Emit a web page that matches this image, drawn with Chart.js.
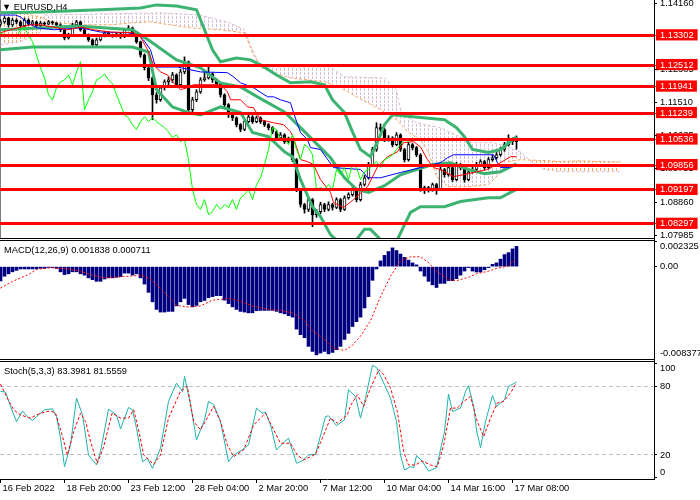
<!DOCTYPE html>
<html>
<head>
<meta charset="utf-8">
<title>EURUSD,H4</title>
<script src="https://cdn.jsdelivr.net/npm/chart.js@4.4.1/dist/chart.umd.min.js"></script>
<style>
  html, body { margin: 0; padding: 0; background: #fff; }
  #page { position: relative; width: 700px; height: 500px; overflow: hidden; }
  canvas { position: absolute; left: 0; }
  .rule { position: absolute; left: 0; width: 655px; height: 1px; background: #000; }
  .vrule { position: absolute; left: 654px; top: 0; width: 1px; height: 480px; background: #000; }
  .caption { position: absolute; left: 4px; font: 9.3px "Liberation Sans", Arial, sans-serif; line-height: 10px; color: #000; white-space: nowrap; }
</style>
</head>
<body>
<div id="page">
  <canvas id="main" width="700" height="241" style="top:0"></canvas>
  <canvas id="macd" width="700" height="118" style="top:241px"></canvas>
  <canvas id="stoch" width="700" height="138" style="top:362px"></canvas>
  <div class="rule" style="top:238px"></div>
  <div class="rule" style="top:240px"></div>
  <div class="rule" style="top:359px"></div>
  <div class="rule" style="top:361px"></div>
  <div class="vrule"></div>
  <div class="caption" style="top:2px;left:2px">&#9660; EURUSD,H4</div>
  <div class="caption" style="top:245px">MACD(12,26,9) 0.001838 0.000711</div>
  <div class="caption" style="top:366px">Stoch(5,3,3) 83.3981 81.5559</div>
</div>
<script>
// H4 candles, bar 0 = 16 Feb 2022
const opens = [
  1.1360,1.1366,1.1376,1.1358,1.1371,1.1366,1.1355,1.1371,1.1360,1.1366,
  1.1355,1.1363,1.1360,1.1366,1.1363,1.1358,1.1345,1.1323,1.1331,1.1358,
  1.1366,1.1345,1.1331,1.1318,1.1305,1.1318,1.1329,1.1337,1.1331,1.1329,
  1.1334,1.1326,1.1345,1.1350,1.1331,1.1313,1.1278,1.1244,1.1217,1.1172,
  1.1159,1.1191,1.1207,1.1212,1.1225,1.1199,1.1233,1.1260,1.1133,1.1159,
  1.1180,1.1212,1.1217,1.1228,1.1212,1.1201,1.1172,1.1146,1.1119,1.1111,
  1.1093,1.1080,1.1101,1.1114,1.1101,1.1111,1.1101,1.1093,1.1085,1.1074,
  1.1058,1.1066,1.1048,1.1053,1.1000,1.0921,1.0881,1.0868,1.0894,1.0854,
  1.0862,1.0881,1.0868,1.0881,1.0873,1.0894,1.0868,1.0899,1.0907,1.0921,
  1.0894,1.0934,1.0952,1.0987,1.1027,1.1085,1.1080,1.1053,1.1058,1.1040,
  1.1066,1.1027,1.1000,1.1040,1.1032,1.1013,1.0921,1.0926,1.0921,1.0934,
  1.0921,1.0974,1.0960,1.0979,1.0947,1.0987,1.0979,1.0947,1.0968,1.0974,
  1.0987,1.0995,1.0979,1.1000,1.1005,1.1013,1.1027,1.1040,1.1053,1.1048
];
const highs = [
  1.1372,1.1380,1.1378,1.1375,1.1374,1.1369,1.1376,1.1374,1.1370,1.1368,
  1.1367,1.1366,1.1370,1.1368,1.1365,1.1361,1.1348,1.1336,1.1362,1.1370,
  1.1368,1.1349,1.1334,1.1321,1.1323,1.1333,1.1341,1.1340,1.1334,1.1338,
  1.1336,1.1349,1.1356,1.1352,1.1334,1.1315,1.1281,1.1247,1.1220,1.1178,
  1.1196,1.1212,1.1220,1.1232,1.1228,1.1240,1.1273,1.1262,1.1166,1.1186,
  1.1218,1.1236,1.1246,1.1231,1.1215,1.1204,1.1175,1.1149,1.1125,1.1114,
  1.1096,1.1106,1.1120,1.1117,1.1116,1.1114,1.1104,1.1096,1.1088,1.1077,
  1.1072,1.1069,1.1060,1.1056,1.1003,1.0924,1.0884,1.0900,1.0897,1.0868,
  1.0887,1.0884,1.0888,1.0884,1.0899,1.0897,1.0904,1.0912,1.0926,1.0924,
  1.0940,1.0958,1.0993,1.1033,1.1098,1.1095,1.1084,1.1064,1.1061,1.1072,
  1.1069,1.1030,1.1046,1.1043,1.1035,1.1016,1.0930,1.0929,1.0938,1.0937,
  1.0980,1.0977,1.0985,1.0982,1.0993,1.0990,1.0982,1.0973,1.0980,1.0993,
  1.1000,1.0998,1.1006,1.1012,1.1019,1.1033,1.1046,1.1066,1.1058,1.1063
];
const lows = [
  1.1355,1.1362,1.1352,1.1354,1.1361,1.1350,1.1352,1.1356,1.1357,1.1351,
  1.1352,1.1356,1.1358,1.1359,1.1354,1.1340,1.1318,1.1320,1.1329,1.1355,
  1.1341,1.1327,1.1314,1.1298,1.1302,1.1315,1.1326,1.1327,1.1325,1.1326,
  1.1322,1.1324,1.1342,1.1327,1.1309,1.1272,1.1238,1.1210,1.1106,1.1150,
  1.1155,1.1185,1.1198,1.1205,1.1192,1.1196,1.1228,1.1128,1.1125,1.1154,
  1.1176,1.1208,1.1214,1.1205,1.1195,1.1166,1.1140,1.1112,1.1104,1.1087,
  1.1074,1.1077,1.1098,1.1096,1.1098,1.1096,1.1088,1.1079,1.1069,1.1052,
  1.1055,1.1043,1.1045,1.0995,1.0915,1.0874,1.0858,1.0862,1.0822,1.0847,
  1.0856,1.0862,1.0864,1.0866,1.0870,1.0862,1.0865,1.0895,1.0903,1.0888,
  1.0890,1.0930,1.0948,1.0983,1.1022,1.1074,1.1048,1.1049,1.1034,1.1037,
  1.1022,1.0994,1.0996,1.1026,1.1008,1.0916,1.0910,1.0914,1.0916,1.0908,
  1.0918,1.0954,1.0956,1.0942,1.0944,1.0973,1.0940,1.0944,1.0964,1.0970,
  1.0982,1.0974,1.0975,1.0996,1.1001,1.1009,1.1022,1.1036,1.1040,1.1028
];
const closes = [
  1.1366,1.1376,1.1358,1.1371,1.1366,1.1355,1.1371,1.1360,1.1366,1.1355,
  1.1363,1.1360,1.1366,1.1363,1.1358,1.1345,1.1323,1.1331,1.1358,1.1366,
  1.1345,1.1331,1.1318,1.1305,1.1318,1.1329,1.1337,1.1331,1.1329,1.1334,
  1.1326,1.1345,1.1350,1.1331,1.1313,1.1278,1.1244,1.1217,1.1172,1.1159,
  1.1191,1.1207,1.1212,1.1225,1.1199,1.1233,1.1260,1.1133,1.1159,1.1180,
  1.1212,1.1217,1.1228,1.1212,1.1201,1.1172,1.1146,1.1119,1.1111,1.1093,
  1.1080,1.1101,1.1114,1.1101,1.1111,1.1101,1.1093,1.1085,1.1074,1.1058,
  1.1066,1.1048,1.1053,1.1000,1.0921,1.0881,1.0868,1.0894,1.0854,1.0862,
  1.0881,1.0868,1.0881,1.0873,1.0894,1.0868,1.0899,1.0907,1.0921,1.0894,
  1.0934,1.0952,1.0987,1.1027,1.1085,1.1080,1.1053,1.1058,1.1040,1.1066,
  1.1027,1.1000,1.1040,1.1032,1.1013,1.0921,1.0926,1.0921,1.0934,1.0921,
  1.0974,1.0960,1.0979,1.0947,1.0987,1.0979,1.0947,1.0968,1.0974,1.0987,
  1.0995,1.0979,1.1000,1.1005,1.1013,1.1027,1.1040,1.1053,1.1048,1.1058
];
const chikouShift = 26;

// indicator vertices: [bar, value]
const bbUpper = [[0,1.1390],[10,1.1392],[25,1.1398],[35,1.1403],[39,1.1411],[44,1.1408],[49,1.1398],[51,1.1345],[53,1.1292],[55,1.1260],[59,1.1270],[62.5,1.1265],[65.5,1.1249],[69,1.1225],[72.5,1.1204],[77.5,1.1207],[81,1.1199],[83,1.1159],[86,1.1125],[88,1.1074],[90,1.1027],[92.5,1.1008],[94.5,1.1053],[96,1.1093],[98,1.1119],[103,1.1114],[111,1.1106],[114,1.1085],[116,1.1061],[118,1.1027],[122,1.1019],[125,1.1027],[129,1.1061]];
const bbMiddle = [[0,1.1345],[11,1.1350],[19,1.1355],[33,1.1345],[37,1.1318],[44,1.1265],[50,1.1244],[55,1.1204],[60,1.1193],[65,1.1162],[71,1.1127],[75,1.1085],[80,1.1032],[82.5,1.1005],[86,1.0952],[89,1.0921],[92,1.0913],[96,1.0931],[100,1.0960],[104,1.0974],[108,1.0987],[112.5,1.0992],[117,1.0974],[121,1.0963],[125,1.0968],[129,1.0989]];
const bbLower = [[0,1.1292],[8,1.1299],[33,1.1299],[37,1.1286],[39,1.1186],[43,1.1140],[47,1.1125],[50,1.1119],[55,1.1140],[60,1.1125],[63,1.1072],[67,1.1061],[71,1.1021],[73,1.1008],[75,1.0947],[78,1.0875],[80,1.0849],[82.5,1.0801],[86,1.0767],[89,1.0788],[91,1.0815],[92.5,1.0815],[95,1.0788],[99,1.0783],[102.5,1.0860],[105,1.0875],[111,1.0875],[115,1.0889],[122,1.0899],[125,1.0899],[127.5,1.0913],[129,1.0921]];
const tenkan = [[0,1.1337],[2.5,1.1345],[5,1.1352],[7.5,1.1358],[10,1.1358],[13.25,1.1352],[16.75,1.1345],[20,1.1352],[23.25,1.1345],[27.5,1.1339],[33.25,1.1337],[35,1.1326],[36.75,1.1292],[38.25,1.1252],[40,1.1233],[41.75,1.1225],[43.25,1.1204],[45,1.1186],[46.75,1.1191],[48.25,1.1199],[55,1.1199],[56.75,1.1180],[57.5,1.1159],[60,1.1159],[61.75,1.1140],[63.25,1.1138],[65,1.1106],[68.25,1.1098],[70.75,1.1093],[72.5,1.1074],[73.25,1.1058],[75,1.1000],[76.75,1.0995],[78.25,1.0987],[80,1.0947],[82.5,1.0913],[83.25,1.0886],[85.75,1.0873],[88.25,1.0894],[91.75,1.0928],[94.25,1.0981],[96.75,1.1008],[99.25,1.1021],[100.75,1.1045],[103.25,1.1048],[105,1.1034],[106.75,1.1000],[108.25,1.0979],[110,1.0974],[113.25,1.0955],[115.75,1.0960],[118.25,1.0966],[121.75,1.0974],[125,1.0992],[127.5,1.1008],[129,1.1008]];
const kijun = [[0,1.1384],[3.75,1.1384],[5,1.1379],[6.75,1.1363],[9.25,1.1350],[13.25,1.1345],[20,1.1350],[25,1.1339],[31.75,1.1337],[34.5,1.1331],[35.75,1.1318],[37.5,1.1292],[38.75,1.1246],[44.25,1.1246],[50,1.1233],[56.75,1.1231],[58.25,1.1220],[60,1.1204],[63.25,1.1191],[66.75,1.1167],[68.25,1.1167],[70,1.1159],[72.5,1.1151],[73.25,1.1125],[75,1.1072],[76.75,1.1053],[77.5,1.1032],[80,1.1027],[83.25,1.0979],[90,1.0974],[90.75,1.0966],[91.75,1.0952],[95,1.0952],[100,1.0966],[105,1.0979],[110,1.0992],[111.75,1.1005],[113.25,1.1013],[123.25,1.1013],[124.25,1.0992],[125,1.0979],[126.75,1.0979],[129,1.0984]];
const senkouA = [[0,1.1392],[5,1.1390],[10,1.1379],[12.5,1.1366],[20,1.1358],[27.5,1.1358],[32.5,1.1363],[37.5,1.1366],[47.5,1.1350],[55,1.1345],[61,1.1337],[63,1.1284],[65,1.1246],[68,1.1231],[72.5,1.1217],[81,1.1207],[85,1.1191],[89,1.1167],[95,1.1133],[99,1.1106],[102,1.1072],[105,1.1053],[107,1.1019],[109,1.0955],[112,1.0928],[117,1.0928],[122,1.0934],[125,1.0966],[127,1.0995],[130,1.1000],[135,1.0998],[140,1.0995],[145,1.0997],[150,1.0995],[155,1.0994]];
const senkouB = [[0,1.1305],[5,1.1313],[10,1.1339],[11,1.1384],[40,1.1390],[50,1.1384],[57.5,1.1363],[61,1.1345],[63,1.1292],[65,1.1246],[82.5,1.1246],[86,1.1220],[96,1.1217],[99,1.1186],[100,1.1133],[101,1.1119],[104,1.1098],[110,1.1085],[118,1.1045],[123,1.1045],[127,1.1034],[130,1.1021],[133,1.0992],[136,1.0974],[140,1.0968],[155,1.0968]];

const priceTicks = [1.14160, 1.13285, 1.12385, 1.11510, 1.10635, 1.09755, 1.08860, 1.07985];
const levelPrices = [1.13302, 1.12512, 1.11941, 1.11239, 1.10536, 1.09856, 1.09197, 1.08297];

const macdHist = [
  -0.00130,-0.00087,-0.00065,-0.00047,-0.00034,-0.00021,-0.00021,-0.00021,-0.00021,-0.00021,
  -0.00016,-0.00016,-0.00009,-0.00009,-0.00016,-0.00047,-0.00072,-0.00065,-0.00047,-0.00047,
  -0.00065,-0.00077,-0.00102,-0.00118,-0.00133,-0.00133,-0.00112,-0.00102,-0.00102,-0.00096,
  -0.00090,-0.00059,-0.00059,-0.00077,-0.00065,-0.00102,-0.00158,-0.00233,-0.00319,-0.00388,
  -0.00412,-0.00412,-0.00406,-0.00406,-0.00356,-0.00319,-0.00288,-0.00344,-0.00365,-0.00351,
  -0.00319,-0.00307,-0.00282,-0.00272,-0.00263,-0.00263,-0.00304,-0.00335,-0.00365,-0.00388,
  -0.00406,-0.00412,-0.00419,-0.00419,-0.00400,-0.00397,-0.00397,-0.00397,-0.00397,-0.00406,
  -0.00419,-0.00428,-0.00444,-0.00458,-0.00567,-0.00617,-0.00644,-0.00723,-0.00769,-0.00800,
  -0.00784,-0.00769,-0.00791,-0.00778,-0.00753,-0.00723,-0.00660,-0.00605,-0.00543,-0.00499,
  -0.00458,-0.00375,-0.00272,-0.00124,-0.00021,0.00052,0.00102,0.00137,0.00170,0.00146,
  0.00114,0.00084,0.00059,0.00034,0.00016,-0.00040,-0.00086,-0.00133,-0.00165,-0.00189,
  -0.00152,-0.00152,-0.00127,-0.00127,-0.00109,-0.00077,-0.00040,-0.00009,-0.00040,-0.00049,
  -0.00049,-0.00028,-0.00009,0.00021,0.00034,0.00068,0.00109,0.00127,0.00161,0.001838
];
const macdSignal = [[0,-0.00195],[3,-0.00134],[7,-0.00072],[9,-0.00025],[12.5,-0.00009],[17,-0.00022],[20,-0.00041],[23,-0.00078],[26,-0.00102],[30,-0.00093],[35,-0.00078],[37,-0.00102],[39,-0.00165],[42,-0.00273],[44,-0.00351],[47,-0.00366],[50,-0.00357],[53,-0.00304],[57,-0.00288],[60,-0.00313],[63,-0.00357],[67,-0.00388],[70,-0.00397],[73,-0.00419],[76,-0.00490],[78,-0.00583],[81,-0.00660],[83,-0.00738],[86,-0.00760],[88,-0.00713],[90,-0.00630],[92.5,-0.00490],[95,-0.00273],[97.5,-0.00087],[100,0.00052],[102.5,0.00089],[105,0.00089],[107,0.00037],[109,-0.00041],[112,-0.00118],[114,-0.00127],[117,-0.00097],[119,-0.00065],[122,-0.00041],[124,-0.00016],[127,0.00006],[129,0.000711]];
const macdTicks = [0.002325, 0, -0.008377];

const stochMain = [[0,75.3],[1.25,74.8],[2.5,62.2],[4,49.1],[5.5,58.4],[6.7,53.4],[8,50],[9,53.4],[11,59.3],[13,60.2],[14,53.4],[15,34.6],[16,9.8],[17.5,28.7],[19,69.5],[20.5,54.9],[22,20],[24,11.3],[25,22.9],[27,59.9],[29,54.9],[30,42.7],[32,61.3],[33,59.3],[34,43.3],[35.5,14.1],[36.7,17.1],[38,8.4],[40,25.9],[42,66.6],[44,82.6],[45.5,75.3],[46,88.4],[47.5,63.7],[49,33.1],[51,50.6],[52,66.6],[53.3,63.7],[55,49.1],[57,14.1],[58.3,20],[60.4,24.4],[62,28.7],[64,60.8],[65.4,56.4],[66.25,57.3],[67.5,46.2],[69,24.4],[71,31.6],[72,34.6],[74,12.8],[75.4,14.8],[77,20],[78.75,20.6],[81.25,53.4],[82,54.1],[84,45.6],[86,50.6],[87,76.8],[88.75,70.9],[90,52.1],[91.25,69.5],[92.5,89.9],[93,98],[94,96.2],[96,81.1],[97.5,69.5],[99,49.1],[100,20],[101,6.9],[102.5,9.8],[103.3,8.9],[104,19.4],[105.4,14.8],[107,6],[109,8.9],[111,40.3],[112,73],[113,57.8],[115,60.8],[116.25,75.3],[117,80.3],[118.3,62.2],[119,41.8],[120,26.4],[121.25,49.1],[123,71.8],[124,62.2],[126,68],[127,79.7],[129,83.4]];
const stochSignal = [[0,81.7],[1.7,69.5],[3.3,59.3],[5,54.9],[7.5,52.1],[10,56.4],[12.5,58.4],[13.75,56.4],[15.4,37.5],[16.7,20],[18.3,40.3],[20,56.4],[21.25,49.1],[22.5,31.6],[24.2,12.8],[25.8,27.2],[27.9,56.4],[30,52.1],[32,52.1],[33.3,59.3],[34.6,40.3],[35.8,20],[38.3,11.9],[40,20],[42,52.1],[45,75.3],[46.7,79.7],[48.3,49.1],[50,41.8],[53.3,62.2],[55,49.1],[56.7,28.7],[58.3,18.5],[60.8,24.4],[63.3,46.2],[66.25,56.4],[68.3,41.8],[70,30.2],[72.5,30.2],[74.2,20],[75.8,15.6],[78.75,20.6],[80.8,37.5],[82.5,52.1],[84.2,47.7],[86.7,54.9],[87.5,63],[89.2,72.4],[90.8,62.2],[92.5,78.3],[94.6,94.2],[95.8,89.9],[97.5,78.3],[99.2,57.8],[100.8,22.9],[102,11.3],[103.75,11.3],[105.4,14.8],[107.5,11.3],[109.2,9.8],[110.8,28.7],[112.5,60.8],[114.2,60.8],[115.8,66.6],[117.5,70.9],[119.2,49.1],[120.8,36],[122.5,52.1],[124.2,65.2],[125.8,66.6],[127.5,73.9],[128.75,81.6]];
const stochTicks = [100, 80, 20, 0];
const stochLevels = [20, 80];

const timeTickBars = [0, 16, 32, 48, 64, 80, 96, 112, 128];
const timeTickLabels = ["16 Feb 2022", "18 Feb 20:00", "23 Feb 12:00", "28 Feb 04:00", "2 Mar 20:00", "7 Mar 12:00", "10 Mar 04:00", "14 Mar 16:00", "17 Mar 08:00"];

// 4 px per bar over a 654 px plot, bar centres on half pixels
const X_MIN = -0.125, X_MAX = 163.375;
const FONT = { family: "Liberation Sans", size: 9.3, lineHeight: 1.1 };

Chart.defaults.font.family = "Liberation Sans";

function pts(list) {
  return list.map(([x, y]) => ({ x, y }));
}

function hatch(color) {
  const tile = document.createElement("canvas");
  tile.width = 4;
  tile.height = 4;
  const g = tile.getContext("2d");
  g.fillStyle = color;
  g.fillRect(0, 0, 1, 3);
  return g.createPattern(tile, "repeat");
}

function rightAxisFit(s) {
  s.width = 46;
  s.paddingTop = 0;
  s.paddingBottom = 0;
}

function line(data, color, extra) {
  return Object.assign({
    type: "line", data: pts(data), borderColor: color, borderWidth: 1,
    pointRadius: 0, tension: 0, clip: 0
  }, extra || {});
}

const baseOptions = () => ({
  responsive: false,
  animation: false,
  events: [],
  layout: { autoPadding: false, padding: 0 },
  plugins: { legend: { display: false }, tooltip: { enabled: false } }
});

const hiddenX = { type: "linear", display: false, min: X_MIN, max: X_MAX, offset: false };

function initMain() {
  const isLevel = c => !!c.tick && levelPrices.includes(c.tick.value);
  const chikou = closes.slice(chikouShift).map((v, i) => [i, v]);

  new Chart(document.getElementById("main"), {
    type: "bar",
    data: {
      datasets: [
        {
          label: "Body",
          data: opens.map((o, i) => ({ x: i, y: [Math.min(o, closes[i]), Math.max(o, closes[i])] })),
          backgroundColor: opens.map((o, i) => closes[i] >= o ? "#ffffff" : "#000000"),
          borderColor: "#000000", borderWidth: 1, borderSkipped: false,
          barThickness: 3, grouped: false, clip: 0, order: 4
        },
        {
          label: "Wick",
          data: lows.map((l, i) => ({ x: i, y: [l, highs[i]] })),
          backgroundColor: "#000000", borderWidth: 0,
          barThickness: 1, grouped: false, clip: 0, order: 5
        },
        line(senkouA, "#F4A460", {
          label: "Senkou A", borderDash: [3, 2], order: 7,
          fill: { target: 3, above: hatch("#F4A460"), below: hatch("#D8BFD8") }
        }),
        line(senkouB, "#D8BFD8", { label: "Senkou B", borderDash: [3, 2], order: 8 }),
        line(bbUpper, "#3CB371", { label: "BB upper", borderWidth: 3, order: 3 }),
        line(bbMiddle, "#3CB371", { label: "BB middle", borderWidth: 3, order: 3 }),
        line(bbLower, "#3CB371", { label: "BB lower", borderWidth: 3, order: 3 }),
        line(tenkan, "#FF0000", { label: "Tenkan", order: 2 }),
        line(kijun, "#0000FF", { label: "Kijun", order: 2 }),
        line(chikou, "#00FF00", { label: "Chikou", order: 1 })
      ]
    },
    options: Object.assign(baseOptions(), {
      layout: { autoPadding: false, padding: { left: 0, right: 0, top: 0, bottom: 3 } },
      scales: {
        x: hiddenX,
        y: {
          position: "right", min: 1.0792, max: 1.1424,
          afterFit: rightAxisFit,
          afterBuildTicks: s => { s.ticks = priceTicks.concat(levelPrices).map(v => ({ value: v })); },
          ticks: {
            autoSkip: false, padding: 3, font: FONT,
            color: c => isLevel(c) ? "#ffffff" : "#000000",
            showLabelBackdrop: c => isLevel(c),
            backdropColor: "#FF0000",
            backdropPadding: { left: 4, right: 4, top: 1, bottom: 0 },
            callback: v => v.toFixed(5)
          },
          grid: {
            z: 1,
            color: c => isLevel(c) ? "#FF0000" : "rgba(0,0,0,0)",
            lineWidth: c => isLevel(c) ? 3 : 1,
            tickLength: 3,
            tickColor: c => isLevel(c) ? "#FF0000" : "#000000",
            tickWidth: 1
          },
          border: { color: "#000000", width: 1 }
        }
      }
    })
  });
}

function initMacd() {
  new Chart(document.getElementById("macd"), {
    type: "bar",
    data: {
      datasets: [
        line(macdSignal, "#FF0000", { label: "Signal", borderDash: [2, 2], order: 0 }),
        {
          label: "MACD",
          data: macdHist.map((v, i) => ({ x: i, y: v })),
          backgroundColor: "#000080", barThickness: 3, grouped: false, clip: 0, order: 1
        }
      ]
    },
    options: Object.assign(baseOptions(), {
      scales: {
        x: hiddenX,
        y: {
          position: "right", min: macdTicks[2], max: macdTicks[0],
          afterFit: rightAxisFit,
          afterBuildTicks: s => { s.ticks = macdTicks.map(v => ({ value: v })); },
          ticks: {
            autoSkip: false, padding: 3, font: FONT, color: "#000000",
            callback: (v, i) => {
              const text = v === 0 ? "0.00" : String(v);
              if (i === 0) return ["", text];
              if (i === macdTicks.length - 1) return [text, ""];
              return text;
            }
          },
          grid: { drawOnChartArea: false, tickLength: 3, tickColor: "#000000" },
          border: { color: "#000000", width: 1 }
        }
      }
    })
  });
}

function initStoch() {
  const isLevel = c => !!c.tick && stochLevels.includes(c.tick.value);

  new Chart(document.getElementById("stoch"), {
    type: "line",
    data: {
      datasets: [
        line(stochMain, "#20B2AA", { label: "Main", order: 1 }),
        line(stochSignal, "#FF0000", { label: "Signal", borderDash: [3, 2], order: 0 })
      ]
    },
    options: Object.assign(baseOptions(), {
      scales: {
        x: {
          type: "linear", min: X_MIN, max: X_MAX, offset: false,
          afterFit: s => { s.height = 21; s.paddingLeft = 0; s.paddingRight = 0; },
          afterBuildTicks: s => { s.ticks = timeTickBars.map(v => ({ value: v })); },
          ticks: {
            autoSkip: false, maxRotation: 0, minRotation: 0, align: "start",
            labelOffset: 2, padding: 0, font: FONT, color: "#000000",
            callback: v => timeTickLabels[timeTickBars.indexOf(v)]
          },
          grid: { drawOnChartArea: false, tickLength: 4, tickColor: "#000000" },
          border: { color: "#000000", width: 1 }
        },
        y: {
          position: "right", min: -0.9, max: 100.9,
          afterFit: rightAxisFit,
          afterBuildTicks: s => { s.ticks = stochTicks.map(v => ({ value: v })); },
          ticks: {
            autoSkip: false, padding: 3, font: FONT, color: "#000000",
            callback: (v, i) => {
              if (i === 0) return ["", String(v)];
              if (i === stochTicks.length - 1) return [String(v), ""];
              return String(v);
            }
          },
          grid: {
            color: c => isLevel(c) ? "#C0C0C0" : "rgba(0,0,0,0)",
            tickLength: 3,
            tickColor: "#000000"
          },
          border: { color: "#000000", width: 1, dash: c => isLevel(c) ? [4, 3] : [] }
        }
      }
    })
  });
}

initMain();
initMacd();
initStoch();
</script>
</body>
</html>
